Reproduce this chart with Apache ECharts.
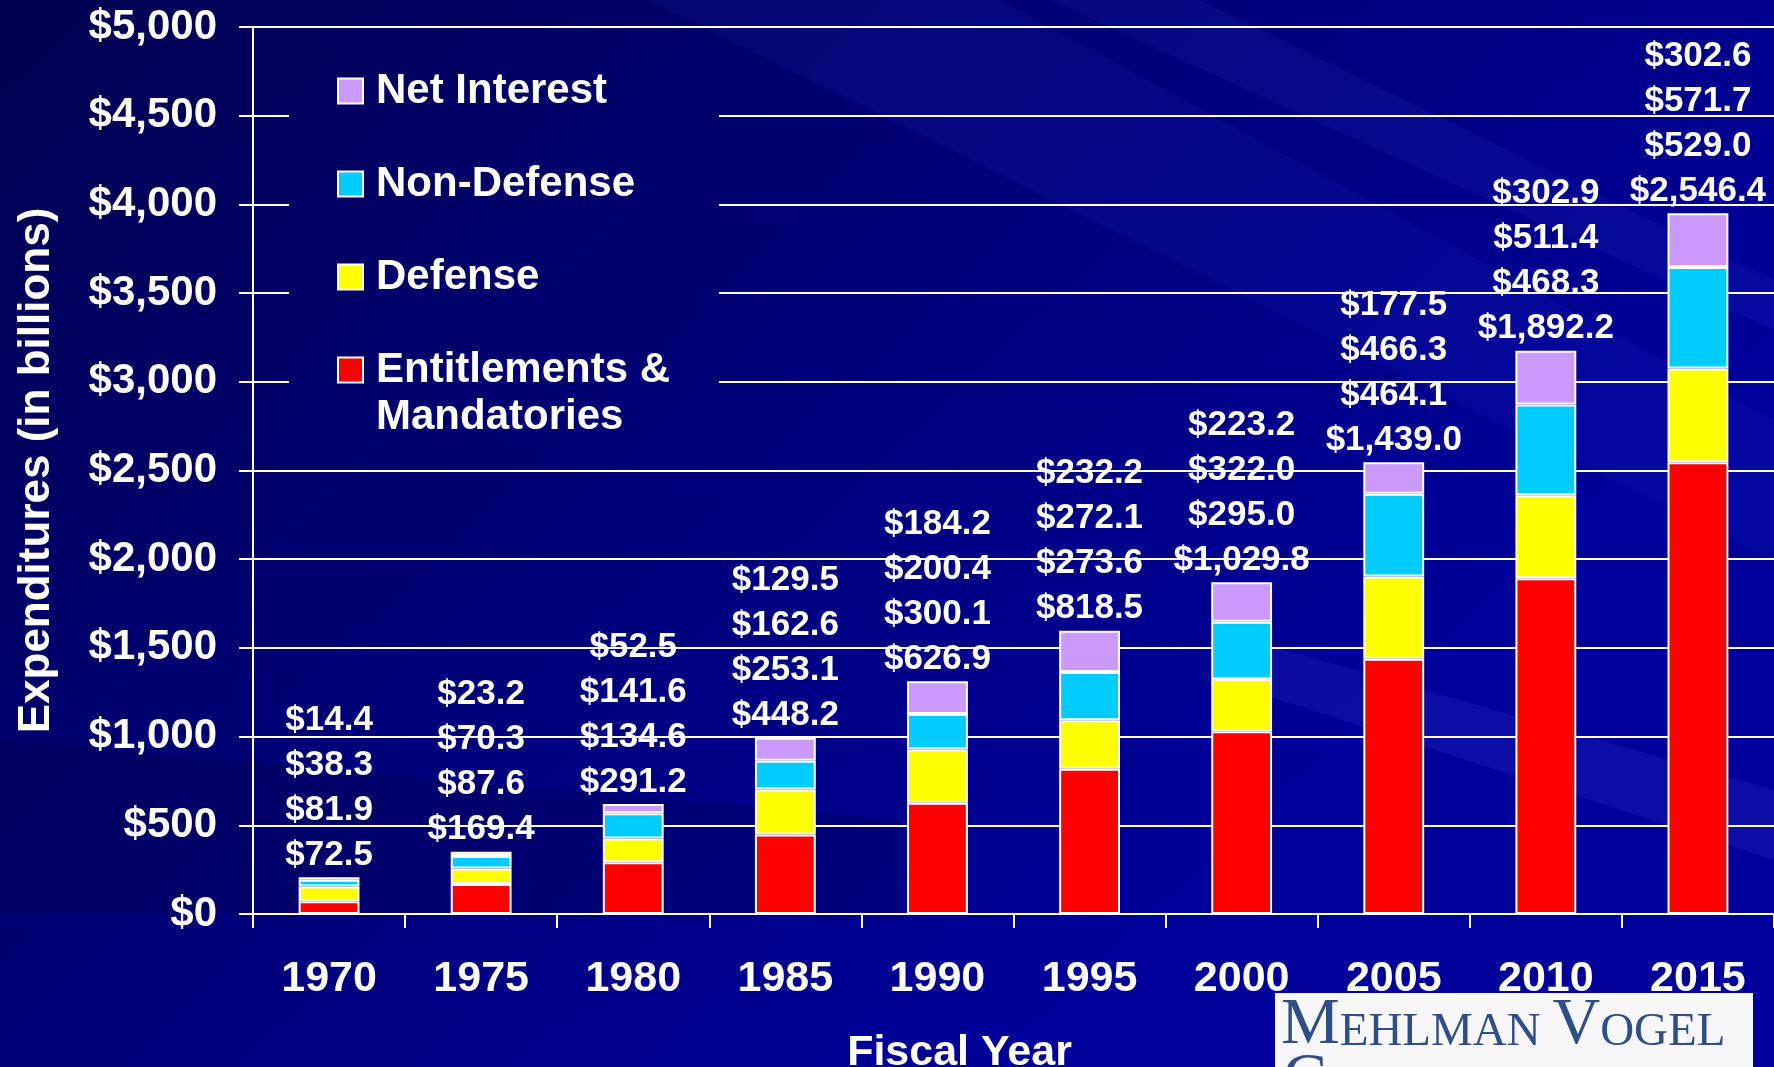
<!DOCTYPE html>
<html>
<head>
<meta charset="utf-8">
<title>Expenditures by Fiscal Year</title>
<script src="https://cdn.jsdelivr.net/npm/echarts@6/dist/echarts.min.js"></script>
<style>
    html, body { margin: 0; padding: 0; background: #000070; overflow: hidden; }
    #chart { width: 1774px; height: 1067px; }
</style>
</head>
<body>
<div id="chart"></div>
<script>
// fiscal years on the x axis
const years = ['1970', '1975', '1980', '1985', '1990', '1995', '2000', '2005', '2010', '2015'];
// spending in billions, bottom of the stack first
const entitlements = [72.5, 169.4, 291.2, 448.2, 626.9, 818.5, 1029.8, 1439.0, 1892.2, 2546.4];
const defense = [81.9, 87.6, 134.6, 253.1, 300.1, 273.6, 295.0, 464.1, 468.3, 529.0];
const nonDefense = [38.3, 70.3, 141.6, 162.6, 200.4, 272.1, 322.0, 466.3, 511.4, 571.7];
const netInterest = [14.4, 23.2, 52.5, 129.5, 184.2, 232.2, 223.2, 177.5, 302.9, 302.6];
// y axis ticks
const yMin = 0;
const yMax = 5000;
const yStep = 500;

const FONT = "'Liberation Sans', Arial, sans-serif";
const SERIF = "'Liberation Serif', serif";

// stacked totals, used to put the value labels above each bar
const totals = years.map((y, i) => entitlements[i] + defense[i] + nonDefense[i] + netInterest[i]);

const money = v => '$' + v.toLocaleString('en-US', { minimumFractionDigits: 1, maximumFractionDigits: 1 });

// background gradient, shared with the patch that hides grid lines behind the legend
const bg = {
    type: 'linear', global: true,
    x: 0, y: 0, x2: 1000, y2: 1067,
    colorStops: [
        { offset: 0, color: '#000050' },
        { offset: 1, color: '#00009a' }
    ]
};

const barSeries = (name, data, color) => ({
    name,
    type: 'bar',
    stack: 'total',
    barWidth: '40%',
    data,
    itemStyle: { color, borderColor: '#ffffff', borderWidth: 2 },
    emphasis: { disabled: true }
});

const legendText = {
    color: '#ffffff', fontSize: 42, fontWeight: 'bold', fontFamily: FONT,
    lineHeight: 47, padding: [0, 0, 0, 8]
};

const chart = echarts.init(document.getElementById('chart'));

const option = {
    animation: false,
    grid: { left: 253, right: 0, top: 27, bottom: 153, outerBoundsMode: 'none' },
    legend: [
        {
            data: ['Net Interest', 'Non-Defense', 'Defense'],
            orient: 'vertical', left: 337, top: 67.5, padding: 0,
            itemWidth: 25, itemHeight: 25, itemGap: 46, icon: 'rect',
            selectedMode: false, textStyle: legendText
        },
        {
            // blank first line keeps the icon level with "Entitlements &"
            data: ['Entitlements & Mandatories'],
            orient: 'vertical', left: 337, top: 299.5, padding: 0,
            itemWidth: 25, itemHeight: 25, icon: 'rect',
            selectedMode: false, textStyle: legendText,
            formatter: () => '\nEntitlements &\nMandatories'
        }
    ],
    xAxis: {
        type: 'category',
        data: years,
        axisLine: { lineStyle: { color: '#ffffff', width: 2 } },
        axisTick: { show: true, interval: 0, length: 14, lineStyle: { color: '#ffffff', width: 2 } },
        axisLabel: { color: '#ffffff', fontSize: 43, fontWeight: 'bold', fontFamily: FONT, margin: 44, interval: 0 },
        name: 'Fiscal Year',
        nameLocation: 'middle',
        nameGap: 118,
        nameTextStyle: { color: '#ffffff', fontSize: 43, fontWeight: 'bold', fontFamily: FONT, padding: [0, 108, 0, 0] }
    },
    yAxis: {
        type: 'value',
        min: yMin, max: yMax, interval: yStep,
        axisLine: { show: true, lineStyle: { color: '#ffffff', width: 2 } },
        axisTick: { show: true, length: 14, lineStyle: { color: '#ffffff', width: 2 } },
        splitLine: { lineStyle: { color: '#ffffff', width: 2 } },
        axisLabel: {
            color: '#ffffff', fontSize: 42, fontWeight: 'bold', fontFamily: FONT, margin: 36,
            formatter: v => '$' + v.toLocaleString('en-US')
        },
        name: 'Expenditures (in billions)',
        nameLocation: 'middle',
        nameGap: 194,
        nameTextStyle: { color: '#ffffff', fontSize: 44, fontWeight: 'bold', fontFamily: FONT }
    },
    series: [
        barSeries('Entitlements & Mandatories', entitlements, '#ff0000'),
        barSeries('Defense', defense, '#ffff00'),
        barSeries('Non-Defense', nonDefense, '#00ccff'),
        barSeries('Net Interest', netInterest, '#cc99ff'),
        {
            // value labels stacked above each bar, entitlements lowest
            type: 'custom',
            silent: true,
            z: 5,
            data: totals.map((t, i) => [i, t]),
            encode: { x: 0, y: 1 },
            renderItem: (params, api) => {
                const i = params.dataIndex;
                const top = api.coord([i, api.value(1)]);
                const layers = [entitlements, defense, nonDefense, netInterest];
                return {
                    type: 'group',
                    children: layers.map((arr, k) => ({
                        type: 'text',
                        x: top[0],
                        y: top[1] - 22 - k * 45,
                        style: {
                            text: money(arr[i]),
                            fill: '#ffffff',
                            fontSize: 35, fontWeight: 'bold', fontFamily: FONT,
                            align: 'center', verticalAlign: 'middle'
                        }
                    }))
                };
            }
        }
    ],
    graphic: [
        { type: 'rect', z: -10, silent: true, shape: { x: 0, y: 0, width: 1774, height: 1067 }, style: { fill: bg } },
        // soft diagonal streaks, under the axes
        { type: 'polygon', z: -9, silent: true, shape: { points: [[650, 0], [1000, 0], [1774, 420], [1774, 560]] }, style: { fill: 'rgba(70,90,255,0.08)' } },
        { type: 'polygon', z: -9, silent: true, shape: { points: [[1050, 0], [1200, 0], [1774, 280], [1774, 330]] }, style: { fill: 'rgba(90,110,255,0.08)' } },
        { type: 'polygon', z: -9, silent: true, shape: { points: [[1250, 640], [1774, 790], [1774, 860], [1250, 690]] }, style: { fill: 'rgba(110,130,255,0.10)' } },
        { type: 'polygon', z: -9, silent: true, shape: { points: [[0, 740], [900, 820], [900, 913], [0, 913]] }, style: { fill: 'rgba(0,0,40,0.18)' } },
        // hides the grid lines behind the legend block
        { type: 'rect', z: 0.5, silent: true, shape: { x: 289, y: 100, width: 430, height: 295 }, style: { fill: bg } },
        // logo block, bottom right
        {
            type: 'group', z: 10, silent: true,
            children: [
                { type: 'rect', shape: { x: 1275, y: 993, width: 478, height: 74 }, style: { fill: '#f7f7f9' } },
                {
                    type: 'text', x: 1281, y: 993,
                    style: {
                        text: '{b|M}{s|EHLMAN }{b|V}{s|OGEL}',
                        fill: '#2f4e88',
                        rich: {
                            b: { fontSize: 66, fontFamily: SERIF, fill: '#2f4e88', lineHeight: 66, verticalAlign: 'bottom' },
                            s: { fontSize: 47, fontFamily: SERIF, fill: '#2f4e88', lineHeight: 47, verticalAlign: 'bottom', padding: [0, 0, 3, 0] }
                        }
                    }
                },
                {
                    type: 'text', x: 1283, y: 1048,
                    style: { text: 'C', fill: '#2f4e88', fontSize: 66, fontFamily: SERIF, verticalAlign: 'top' }
                }
            ]
        }
    ]
};

chart.setOption(option);
</script>
</body>
</html>
